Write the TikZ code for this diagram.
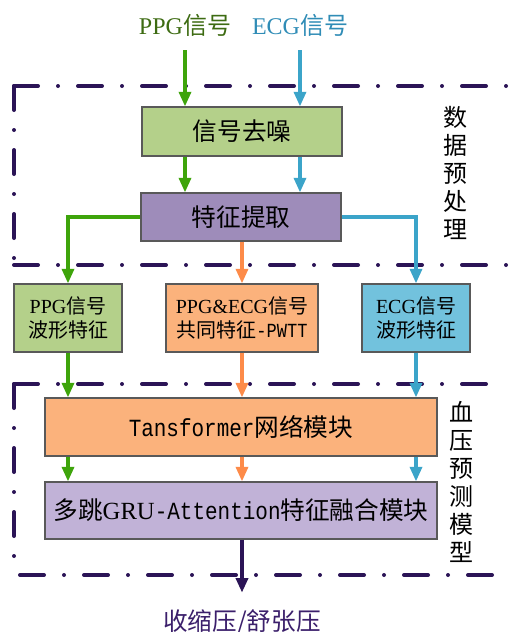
\documentclass[tikz,border=0pt]{standalone}
\usepackage{fontspec}
\setmainfont{Liberation Serif}
\newfontfamily\cjk{Noto Sans CJK SC}
\newfontfamily\mono[FakeStretch=0.85]{Liberation Mono}
\usetikzlibrary{arrows.meta,positioning}

\definecolor{gfill}{HTML}{B4D08A}
\definecolor{pfill}{HTML}{9E8CBA}
\definecolor{ofill}{HTML}{FBB27C}
\definecolor{bfill}{HTML}{72C2DD}
\definecolor{lpfill}{HTML}{C1B2D7}
\definecolor{garrow}{HTML}{3EA40B}
\definecolor{barrow}{HTML}{3BA4C9}
\definecolor{oarrow}{HTML}{FD8B49}
\definecolor{darkp}{HTML}{2B1456}
\definecolor{gtext}{HTML}{3D6B12}
\definecolor{btext}{HTML}{2F8CB6}
\definecolor{ptext}{HTML}{3B1F6B}

\begin{document}
\begin{tikzpicture}[x=0.75pt,y=-0.75pt,
    box/.style={draw=black!65,line width=0.8pt,inner sep=0pt,align=center,font=\fontsize{18.5}{22}\selectfont},
    smallbox/.style={box,font=\fontsize{15}{18.5}\selectfont},
    link/.style={line width=2.6pt,-{Triangle[length=11pt,width=9pt]}},
    gline/.style={link,garrow},
    bline/.style={link,barrow},
    oline/.style={link,oarrow},
    dashdot/.style={darkp,line width=3pt,line cap=round,dash pattern=on 18pt off 15pt on 0pt off 15pt},
    side/.style={align=center,font=\fontsize{18}{21}\selectfont}]
  \useasboundingbox (0,0) rectangle (508,632);

  % inputs
  \node[gtext,font=\fontsize{18}{22}\selectfont] (ppgin) at (185,25) {PPG{\cjk 信号}};
  \node[btext,font=\fontsize{18}{22}\selectfont] (ecgin) at (300,25) {ECG{\cjk 信号}};

  % preprocessing
  \node[box,fill=gfill,minimum width=150pt,minimum height=36.75pt] (denoise) at (242,131.5) {\cjk 信号去噪};
  \node[box,fill=pfill,minimum width=150pt,minimum height=36pt] (extract) at (241,217) {\cjk 特征提取};

  % features
  \node[smallbox,fill=gfill,minimum width=81pt,minimum height=51pt] (ppgfeat) at (68,318) {PPG{\cjk 信号}\\{\cjk 波形特征}};
  \node[smallbox,fill=ofill,minimum width=114pt,minimum height=51pt] (pwtt) at (242,318) {PPG\&ECG{\cjk 信号}\\{\cjk 共同特征}{\mono -PWTT}};
  \node[smallbox,fill=bfill,minimum width=81pt,minimum height=51pt] (ecgfeat) at (416,318) {ECG{\cjk 信号}\\{\cjk 波形特征}};

  % model
  \node[box,fill=ofill,minimum width=294pt,minimum height=43.5pt] (trans) at (241,427) {{\mono Tansformer}{\cjk 网络模块}};
  \node[box,fill=lpfill,minimum width=294pt,minimum height=42.75pt] (gru) at (241,510.5) {{\cjk 多跳}GRU{\mono -Attention}{\cjk 特征融合模块}};

  % output
  \node[ptext,font=\fontsize{18.5}{22}\selectfont] (bp) at (242,622) {\cjk 收缩压/舒张压};

  % side labels
  \node[side] (prelabel) at (455,173) {\cjk 数\\\cjk 据\\\cjk 预\\\cjk 处\\\cjk 理};
  \node[side] (modlabel) at (461,482) {\cjk 血\\\cjk 压\\\cjk 预\\\cjk 测\\\cjk 模\\\cjk 型};

  % dash-dot frames
  \draw[dashdot] (14,86) -- (508,86);
  \draw[dashdot] (14,86) -- (14,265);
  \draw[dashdot] (14,265) -- (508,265);
  \draw[dashdot] (14,384) -- (494,384);
  \draw[dashdot] (14,384) -- (14,575);
  \draw[dashdot] (20,575) -- (498,575);

  % arrows
  \draw[gline,shorten <=7pt] (ppgin.south) -- (ppgin.south |- denoise.north);
  \draw[bline,shorten <=7pt] (ecgin.south) -- (ecgin.south |- denoise.north);
  \draw[gline] (denoise.south -| ppgin) -- (extract.north -| ppgin);
  \draw[bline] (denoise.south -| ecgin) -- (extract.north -| ecgin);
  \draw[gline] (extract.west) -| (ppgfeat.north);
  \draw[bline] (extract.east) -| (ecgfeat.north);
  \draw[oline] (extract.south -| pwtt) -- (pwtt.north);
  \draw[gline] (ppgfeat.south) -- (ppgfeat.south |- trans.north);
  \draw[oline] (pwtt.south) -- (pwtt.south |- trans.north);
  \draw[bline] (ecgfeat.south) -- (ecgfeat.south |- trans.north);
  \draw[gline] (trans.south -| ppgfeat) -- (gru.north -| ppgfeat);
  \draw[oline] (trans.south -| pwtt) -- (gru.north -| pwtt);
  \draw[bline] (trans.south -| ecgfeat) -- (gru.north -| ecgfeat);
  \draw[link,darkp,line width=3pt,shorten >=9pt] (gru.south -| pwtt) -- (bp.north);
\end{tikzpicture}
\end{document}
